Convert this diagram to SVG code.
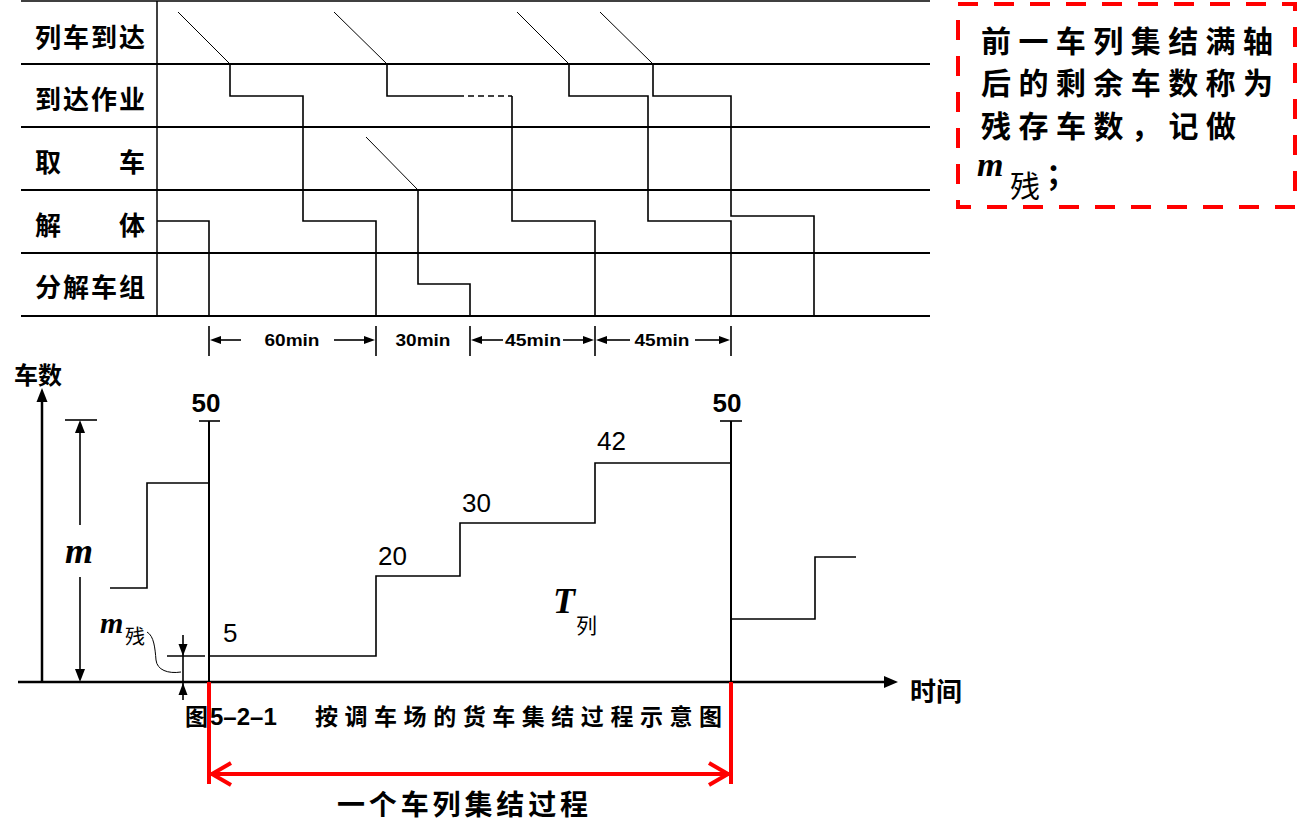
<svg xmlns="http://www.w3.org/2000/svg" width="1303" height="822" viewBox="0 0 1303 822">
<style>
.cjk{font-family:"Noto Sans CJK SC","Noto Sans CJK JP",sans-serif;font-weight:bold;fill:#000}
.cjkr{font-family:"Noto Sans CJK SC","Noto Sans CJK JP",sans-serif;font-weight:normal;fill:#000}
.num{font-family:"Liberation Sans",Arial,sans-serif;fill:#000}
.it{font-family:"Liberation Serif","Times New Roman",serif;font-style:italic;font-weight:bold;fill:#000}
.grid{stroke:#000;stroke-width:2;fill:none}
.stp{stroke:#000;stroke-width:1.6;fill:none}
.dia{stroke:#000;stroke-width:1;fill:none}
.red{stroke:#ff0000;stroke-width:4;fill:none}
.ah{fill:#000;stroke:none}
</style>
<rect width="1303" height="822" fill="#fff"/>

<g id="grid">
<line class="grid" x1="21" y1="1" x2="930" y2="1" style="stroke-width:1.5"/>
<line class="grid" x1="21" y1="64" x2="930" y2="64"/>
<line class="grid" x1="21" y1="127" x2="930" y2="127"/>
<line class="grid" x1="21" y1="190" x2="930" y2="190"/>
<line class="grid" x1="21" y1="253" x2="930" y2="253"/>
<line class="grid" x1="21" y1="316" x2="930" y2="316"/>
<line class="grid" x1="157" y1="1" x2="157" y2="316" style="stroke-width:1.5"/>
</g>

<g id="row-labels">
<text class="cjk" x="35" y="47" font-size="26" textLength="110" lengthAdjust="spacing">列车到达</text>
<text class="cjk" x="35" y="109" font-size="26" textLength="110" lengthAdjust="spacing">到达作业</text>
<text class="cjk" x="35" y="172" font-size="26">取</text>
<text class="cjk" x="119" y="172" font-size="26">车</text>
<text class="cjk" x="35" y="235" font-size="26">解</text>
<text class="cjk" x="119" y="235" font-size="26">体</text>
<text class="cjk" x="35" y="297" font-size="26" textLength="110" lengthAdjust="spacing">分解车组</text>
</g>

<g id="timeline">
<path class="dia" d="M178,12 L230,64"/>
<path class="stp" d="M230,64 V96 H303 V221 H376 V316"/>
<path class="dia" d="M334,12 L387,64"/>
<path class="stp" d="M387,64 V96 H458"/>
<path class="stp" d="M458,96 H512" stroke-dasharray="6 4"/>
<path class="stp" d="M512,96 V221 H595 V316"/>
<path class="dia" d="M366,137 L418,190"/>
<path class="stp" d="M418,190 V284 H470 V316"/>
<path class="stp" d="M157,221 H209 V316"/>
<path class="dia" d="M517,12 L569,64"/>
<path class="stp" d="M569,64 V96 H648 V221 H731 V316"/>
<path class="dia" d="M600,12 L653,64"/>
<path class="stp" d="M653,64 V96 H731 V216 H814 V316"/>
</g>

<g id="durations">
<g class="stp">
<line x1="209" y1="326" x2="209" y2="356"/>
<line x1="376" y1="326" x2="376" y2="356"/>
<line x1="470" y1="326" x2="470" y2="356"/>
<line x1="595" y1="326" x2="595" y2="356"/>
<line x1="731" y1="326" x2="731" y2="356"/>
<line x1="218" y1="340" x2="241" y2="340"/>
<line x1="334" y1="340" x2="364" y2="340"/>
<line x1="480" y1="340" x2="503" y2="340"/>
<line x1="563" y1="340" x2="585" y2="340"/>
<line x1="605" y1="340" x2="630" y2="340"/>
<line x1="695" y1="340" x2="721" y2="340"/>
</g>
<path class="ah" d="M210,340 L221,336 L221,344 Z"/>
<path class="ah" d="M375,340 L364,336 L364,344 Z"/>
<path class="ah" d="M471,340 L482,336 L482,344 Z"/>
<path class="ah" d="M594,340 L583,336 L583,344 Z"/>
<path class="ah" d="M596,340 L607,336 L607,344 Z"/>
<path class="ah" d="M730,340 L719,336 L719,344 Z"/>
<text class="num" font-weight="bold" font-size="17" x="292" y="346" text-anchor="middle" textLength="55" lengthAdjust="spacingAndGlyphs">60min</text>
<text class="num" font-weight="bold" font-size="17" x="423" y="346" text-anchor="middle" textLength="55" lengthAdjust="spacingAndGlyphs">30min</text>
<text class="num" font-weight="bold" font-size="17" x="533" y="346" text-anchor="middle" textLength="56" lengthAdjust="spacingAndGlyphs">45min</text>
<text class="num" font-weight="bold" font-size="17" x="662" y="346" text-anchor="middle" textLength="55" lengthAdjust="spacingAndGlyphs">45min</text>
</g>

<g id="axes">
<line x1="42" y1="398" x2="42" y2="683" stroke="#000" stroke-width="2.5"/>
<path class="ah" d="M42,388 L36.5,402 L47.5,402 Z"/>
<line x1="18" y1="682" x2="886" y2="682" stroke="#000" stroke-width="2.5"/>
<path class="ah" d="M898,682 L884,676 L884,688 Z"/>
<text class="cjk" x="14" y="384" font-size="24">车数</text>
<text class="cjk" x="910" y="701" font-size="26">时间</text>
</g>

<g id="m-dimension">
<line class="stp" x1="65" y1="420" x2="97" y2="420"/>
<line class="stp" x1="80" y1="430" x2="80" y2="525"/>
<line class="stp" x1="80" y1="577" x2="80" y2="672"/>
<path class="ah" d="M80,420 L75,433 L85,433 Z"/>
<path class="ah" d="M80,682 L75,669 L85,669 Z"/>
<text class="it" x="65" y="563" font-size="36">m</text>
</g>

<g id="m-residual">
<line class="stp" x1="167" y1="656" x2="205" y2="656"/>
<line class="stp" x1="183" y1="635" x2="183" y2="700"/>
<path class="ah" d="M183,656 L178.5,644 L187.5,644 Z"/>
<path class="ah" d="M183,683 L178.5,695 L187.5,695 Z"/>
<path d="M147,632 C154,636 155,648 156,660 C157,670 168,674 181,672" stroke="#000" stroke-width="1" fill="none"/>
<text class="it" x="100" y="633" font-size="30">m</text>
<text class="cjkr" x="125" y="644" font-size="20">残</text>
</g>

<g id="count-curve">
<path class="stp" d="M110,588 H147 V483 H209"/>
<line x1="209" y1="421" x2="209" y2="682" stroke="#000" stroke-width="2"/>
<line class="stp" x1="199" y1="421" x2="220" y2="421"/>
<path class="stp" d="M209,656 H376 V576 H460 V523 H595 V463 H731"/>
<line x1="731" y1="421" x2="731" y2="682" stroke="#000" stroke-width="2"/>
<line class="stp" x1="720" y1="421" x2="742" y2="421"/>
<path class="stp" d="M731,619 H815 V557 H856"/>
<text class="num" font-weight="bold" font-size="26" x="206" y="412" text-anchor="middle">50</text>
<text class="num" font-weight="bold" font-size="26" x="727" y="412" text-anchor="middle">50</text>
<text class="num" font-size="26" x="223" y="642">5</text>
<text class="num" font-size="26" x="378" y="565">20</text>
<text class="num" font-size="26" x="462" y="512">30</text>
<text class="num" font-size="26" x="597" y="450">42</text>
<text class="it" x="553" y="613" font-size="36">T</text>
<text class="cjkr" x="576" y="633" font-size="21">列</text>
</g>

<g id="caption">
<text class="cjk" x="185" y="725" font-size="23">图<tspan class="num" font-weight="bold" font-size="24" dx="2">5–2–1</tspan></text>
<text class="cjk" x="315" y="725" font-size="23" textLength="407" lengthAdjust="spacing">按调车场的货车集结过程示意图</text>
</g>

<g id="span-arrow">
<line class="red" x1="209" y1="682" x2="209" y2="784"/>
<line class="red" x1="731" y1="682" x2="731" y2="784"/>
<line class="red" x1="211" y1="774" x2="729" y2="774"/>
<path class="red" d="M231,763 L212,774 L231,785"/>
<path class="red" d="M709,763 L728,774 L709,785"/>
<text class="cjk" x="337" y="815" font-size="28" textLength="251" lengthAdjust="spacing">一个车列集结过程</text>
</g>

<g id="note-box">
<rect x="958" y="4" width="337" height="203" fill="none" stroke="#ff0000" stroke-width="4" stroke-dasharray="20 16"/>
<text class="cjk" x="981" y="52" font-size="30" textLength="292" lengthAdjust="spacing">前一车列集结满轴</text>
<text class="cjk" x="981" y="94" font-size="30" textLength="292" lengthAdjust="spacing">后的剩余车数称为</text>
<text class="cjk" x="981" y="137" font-size="30" textLength="255" lengthAdjust="spacing">残存车数，记做</text>
<text class="it" x="977" y="176" font-size="34">m</text>
<text class="cjkr" x="1010" y="197" font-size="30">残</text>
<text class="cjk" x="1046" y="185" font-size="30">；</text>
</g>
</svg>
